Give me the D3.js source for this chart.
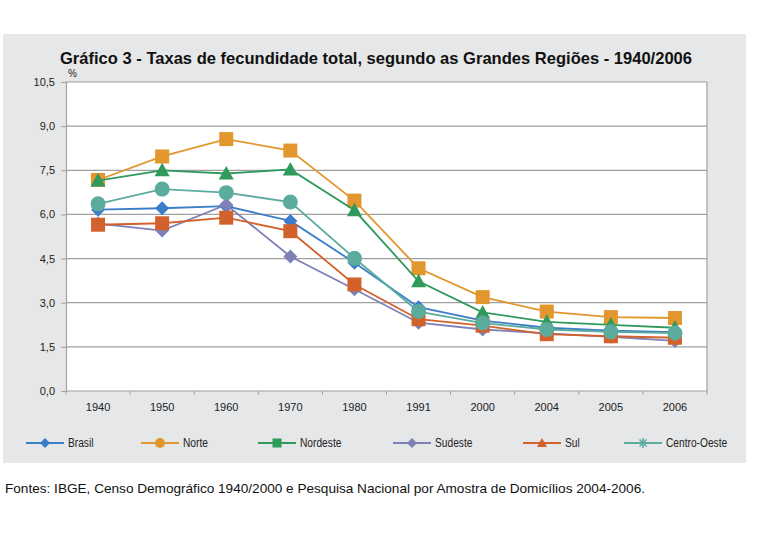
<!DOCTYPE html>
<html><head><meta charset="utf-8">
<script src="https://cdn.jsdelivr.net/npm/d3@7"></script>
<style>
html,body{margin:0;padding:0;background:#fff;}
svg{display:block;font-family:"Liberation Sans",Arial,sans-serif;}
</style></head>
<body>
<svg id="c" width="762" height="538"></svg>
<script>
const years = ["1940","1950","1960","1970","1980","1991","2000","2004","2005","2006"];
const brasil      = [6.16, 6.21, 6.28, 5.78, 4.36, 2.85, 2.39, 2.15, 2.05, 2.00];
const norte       = [7.17, 7.97, 8.56, 8.17, 6.47, 4.17, 3.19, 2.70, 2.51, 2.48];
const nordeste    = [7.15, 7.50, 7.39, 7.53, 6.14, 3.73, 2.67, 2.35, 2.25, 2.15];
const sudeste     = [5.69, 5.45, 6.33, 4.57, 3.46, 2.32, 2.09, 1.96, 1.84, 1.70];
const sul         = [5.65, 5.70, 5.89, 5.43, 3.62, 2.44, 2.22, 1.93, 1.86, 1.81];
const centroOeste = [6.36, 6.86, 6.74, 6.42, 4.51, 2.70, 2.31, 2.09, 2.01, 1.97];
const seriesNames = ["Brasil","Norte","Nordeste","Sudeste","Sul","Centro-Oeste"];
const yTicks = [0, 1.5, 3.0, 4.5, 6.0, 7.5, 9.0, 10.5];
const titleText = "Gráfico 3 - Taxas de fecundidade total, segundo as Grandes Regiões - 1940/2006";
const sourceText = "Fontes: IBGE, Censo Demográfico 1940/2000 e Pesquisa Nacional por Amostra de Domicílios 2004-2006.";

const seriesValues = [brasil, norte, nordeste, sudeste, sul, centroOeste];
const colors = ["#3b7dc9","#e1962e","#2f9a5b","#7e80b8","#d3612c","#5cac9e"];
const plotMarkers = ["diamond","square","triangle","diamond","square","circle"];
const legendMarkers = ["diamond","circle","square","diamond","triangle","asterisk"];

const svg = d3.select("#c");
svg.append("rect").attr("x",3).attr("y",34).attr("width",743).attr("height",429).attr("fill","#e6e7e8");

const L=66, R=707, T=82, B=391;
const x = d3.scaleBand().domain(years).range([L,R]).padding(0);
const y = d3.scaleLinear().domain([0,10.5]).range([B,T]);
const cx = d => x(d)+x.bandwidth()/2;

svg.append("rect").attr("x",L).attr("y",T).attr("width",R-L).attr("height",B-T).attr("fill","#fff");

svg.append("text").attr("x",376).attr("y",64).attr("text-anchor","middle")
  .attr("font-size",16.5).attr("font-weight","bold").attr("fill","#111")
  .attr("textLength",632).attr("lengthAdjust","spacingAndGlyphs").text(titleText);

svg.append("g").selectAll("line").data(yTicks.filter(v=>v>0)).join("line")
  .attr("x1",L).attr("x2",R).attr("y1",d=>y(d)).attr("y2",d=>y(d))
  .attr("stroke","#a0a0a0").attr("stroke-width",1.2);
svg.append("line").attr("x1",R).attr("x2",R).attr("y1",T).attr("y2",B).attr("stroke","#a0a0a0").attr("stroke-width",1.2);

const fmt = v => d3.format(".1f")(v).replace(".",",");
const yAxis = svg.append("g").attr("transform",`translate(${L},0)`)
  .call(d3.axisLeft(y).tickValues(yTicks).tickFormat(fmt).tickSize(5).tickPadding(6));
yAxis.select(".domain").attr("stroke","#a0a0a0").attr("stroke-width",1.2);
yAxis.selectAll(".tick line").attr("stroke","#a0a0a0");
yAxis.selectAll("text").attr("font-size",11).attr("fill","#222").attr("font-family","Liberation Sans, Arial, sans-serif");

svg.append("text").attr("x",68).attr("y",77).attr("font-size",10).attr("fill","#222").text("%");

const xg = svg.append("g").attr("transform",`translate(0,${B})`);
xg.append("line").attr("x1",L).attr("x2",R).attr("stroke","#a0a0a0").attr("stroke-width",1.2);
xg.selectAll("line.t").data(d3.range(years.length+1)).join("line").attr("class","t")
  .attr("x1",i=>L+i*x.step()).attr("x2",i=>L+i*x.step()).attr("y1",0).attr("y2",4)
  .attr("stroke","#a0a0a0");
xg.selectAll("text").data(years).join("text")
  .attr("x",d=>cx(d)).attr("y",20).attr("text-anchor","middle")
  .attr("font-size",11).attr("fill","#222").text(d=>d);

function marker(g, type, px, py, s, color){
  if(type==="square"){
    g.append("rect").attr("x",px-s/2).attr("y",py-s/2).attr("width",s).attr("height",s).attr("fill",color);
  } else if(type==="circle"){
    g.append("circle").attr("cx",px).attr("cy",py).attr("r",s/2).attr("fill",color);
  } else if(type==="diamond"){
    const h=s/2;
    g.append("path").attr("d",`M${px},${py-h}L${px+h},${py}L${px},${py+h}L${px-h},${py}Z`).attr("fill",color);
  } else if(type==="triangle"){
    const h=s/2;
    g.append("path").attr("d",`M${px},${py-h}L${px+h},${py+h*0.8}L${px-h},${py+h*0.8}Z`).attr("fill",color);
  } else if(type==="asterisk"){
    const h=s/2;
    const p=g.append("g").attr("stroke",color).attr("stroke-width",1.6);
    p.append("line").attr("x1",px-h).attr("x2",px+h).attr("y1",py).attr("y2",py);
    p.append("line").attr("x1",px).attr("x2",px).attr("y1",py-h).attr("y2",py+h);
    p.append("line").attr("x1",px-h*0.7).attr("x2",px+h*0.7).attr("y1",py-h*0.7).attr("y2",py+h*0.7);
    p.append("line").attr("x1",px-h*0.7).attr("x2",px+h*0.7).attr("y1",py+h*0.7).attr("y2",py-h*0.7);
  }
}

const line = d3.line().x((d,i)=>cx(years[i])).y(d=>y(d));
const sizes = {square:14, circle:15, diamond:14, triangle:15};
seriesValues.forEach((vals,k)=>{
  const g = svg.append("g");
  g.append("path").attr("d",line(vals)).attr("fill","none").attr("stroke",colors[k]).attr("stroke-width",1.8);
  vals.forEach((v,i)=>marker(g, plotMarkers[k], cx(years[i]), y(v), sizes[plotMarkers[k]], colors[k]));
});

const legX = [45,160,277,412,542,643];
const lg = svg.append("g");
seriesNames.forEach((n,k)=>{
  const mx = legX[k], my = 443;
  lg.append("line").attr("x1",mx-19).attr("x2",mx+19).attr("y1",my).attr("y2",my).attr("stroke",colors[k]).attr("stroke-width",1.8);
  marker(lg, legendMarkers[k], mx, my, legendMarkers[k]==="square"?9:10, colors[k]);
  const t = lg.append("text").attr("x",mx+23).attr("y",my+4).attr("font-size",12).attr("fill","#222").text(n);
  const w = t.node().getComputedTextLength();
  t.attr("textLength", w*0.85).attr("lengthAdjust","spacingAndGlyphs");
});

svg.append("text").attr("x",5).attr("y",493).attr("font-size",13).attr("fill","#111")
  .attr("textLength",640).attr("lengthAdjust","spacingAndGlyphs").text(sourceText);
</script>
</body></html>
